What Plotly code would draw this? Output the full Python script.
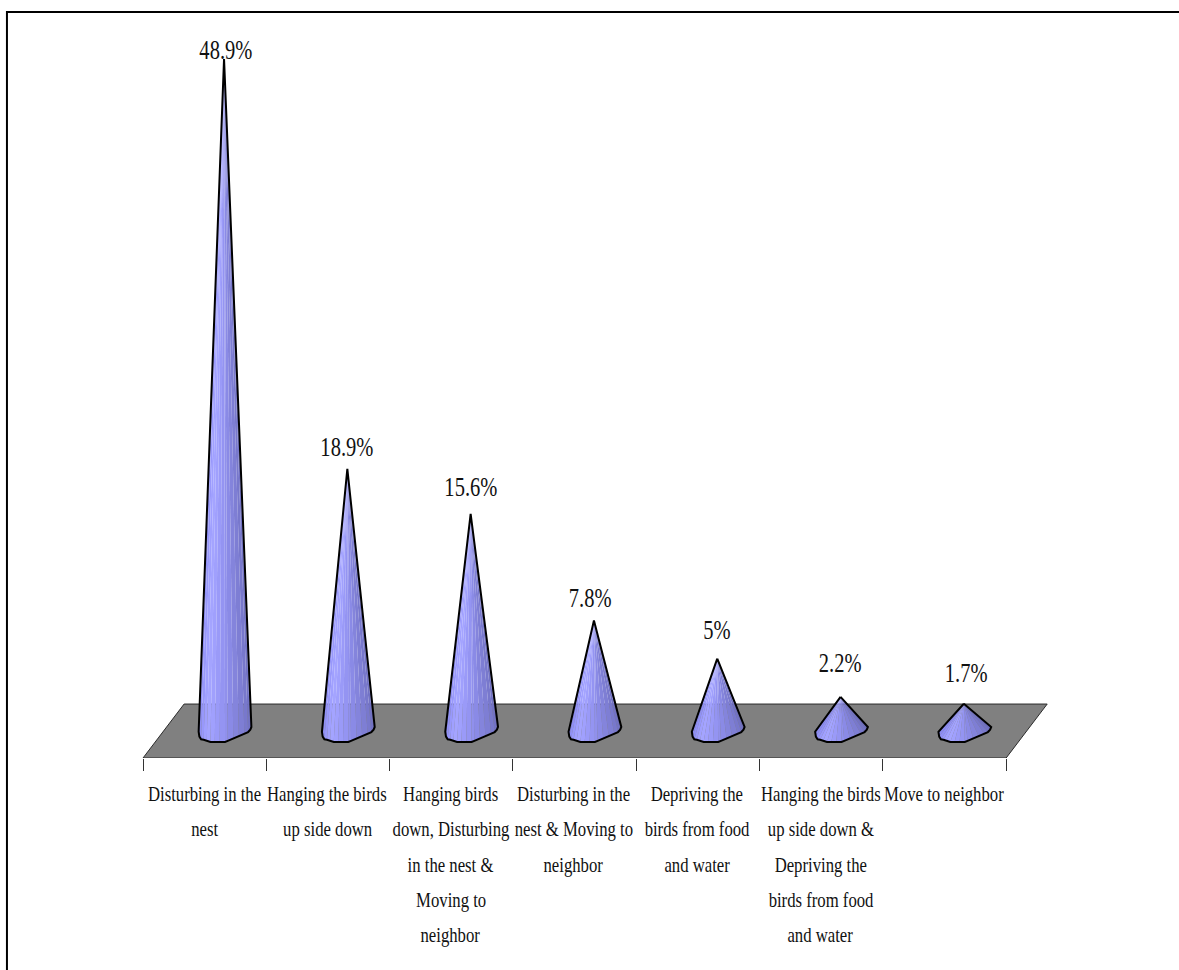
import plotly.graph_objects as go

# Survey results: share of respondents per category
CATEGORY_LINES = [
    ["Disturbing in the", "nest"],
    ["Hanging the birds", "up side down"],
    ["Hanging birds", "down, Disturbing", "in the nest &", "Moving to", "neighbor"],
    ["Disturbing in the", "nest & Moving to", "neighbor"],
    ["Depriving the", "birds from food", "and water"],
    ["Hanging the birds", "up side down &", "Depriving the", "birds from food", "and water"],
    ["Move to neighbor"],
]
VALUES = [48.9, 18.9, 15.6, 7.8, 5, 2.2, 1.7]

# Label placement above each apex, in pixels
LABEL_LIFT = [9, 22, 27, 22, 29, 34, 31]
LABEL_NUDGE = [2, 0, 0, -4, 0, -1, 2]

# Cone base outline around a cone's centre: x in category units, y in percent
RIM_DX = [-0.206, -0.200, -0.186, -0.165, -0.140, -0.110, -0.075, -0.035, 0.008,
          0.030, 0.075, 0.120, 0.165, 0.195, 0.213, 0.222]
RIM_DY = [-0.35, -0.70, -0.90, -0.93, -1.00, -1.10, -1.10, -1.10, -1.10,
          -1.01, -0.84, -0.66, -0.49, -0.37, -0.20, 0.00]
FACET_COLORS = ["#8a8af0", "#9090f6", "#9898fb", "#a0a0ff", "#a4a4ff", "#a0a0fd",
                "#9a9af8", "#9494f2", "#9090ec", "#8a8ae6", "#8484dc", "#7e7ed4",
                "#7878cc", "#7272c4", "#6c6cbc"]

FLOOR_FRONT = -2.27
FLOOR_BACK = 1.68
FLOOR_LEFT = -0.657
FLOOR_DEPTH = 0.333
FLOOR_RIGHT = 6.343

# The typeface is set tall and condensed; this narrows the annotation text after drawing
CONDENSE_TEXT = """
document.querySelectorAll('text.annotation-text').forEach(function (t) {
    var box = t.getBBox();
    var cx = box.x + box.width / 2;
    t.setAttribute('transform',
        'translate(' + cx + ',0) scale(0.76,1) translate(' + (-cx) + ',0)');
});
"""

fig = go.Figure()

# Grey floor plane under the cones
fig.add_trace(go.Scatter(
    x=[FLOOR_LEFT, FLOOR_LEFT + FLOOR_DEPTH, FLOOR_RIGHT + FLOOR_DEPTH, FLOOR_RIGHT, FLOOR_LEFT],
    y=[FLOOR_FRONT, FLOOR_BACK, FLOOR_BACK, FLOOR_FRONT, FLOOR_FRONT],
    mode="lines", fill="toself", fillcolor="#808080",
    line=dict(color="#2a2a2a", width=1), hoverinfo="skip", showlegend=False,
))

for i, value in enumerate(VALUES):
    rim_x = [i + dx for dx in RIM_DX]
    rim_y = list(RIM_DY)
    # Shaded wedges running from the apex to the base outline
    for k, color in enumerate(FACET_COLORS):
        fig.add_trace(go.Scatter(
            x=[i, rim_x[k], rim_x[k + 1], i],
            y=[value, rim_y[k], rim_y[k + 1], value],
            mode="none", fill="toself", fillcolor=color,
            hoverinfo="skip", showlegend=False,
        ))
    # Black silhouette
    fig.add_trace(go.Scatter(
        x=[i] + rim_x + [i],
        y=[value] + rim_y + [value],
        mode="lines", line=dict(color="black", width=2, shape="linear"),
        hoverinfo="skip", showlegend=False,
    ))
    fig.add_annotation(
        x=i, y=value, text=f"{value:g}%", showarrow=False,
        xshift=LABEL_NUDGE[i], yshift=LABEL_LIFT[i], yanchor="middle",
        font=dict(family="Liberation Serif", size=27, color="#111111"),
    )
    # Category text, one row at a time for the wide line spacing
    for row, line in enumerate(CATEGORY_LINES[i]):
        fig.add_annotation(
            x=i - 0.162, y=FLOOR_FRONT, text=line, showarrow=False,
            yshift=-(35.5 + 35.3 * row), yanchor="middle",
            font=dict(family="Liberation Serif", size=22, color="#111111"),
        )

fig.update_layout(
    width=1179, height=970, autosize=False,
    margin=dict(l=0, r=0, t=0, b=212),
    paper_bgcolor="white", plot_bgcolor="white", showlegend=False,
    xaxis=dict(
        range=[-1.817, 7.745], showgrid=False, zeroline=False, showline=False,
        tickmode="array", tickvals=[FLOOR_LEFT + n for n in range(8)],
        ticks="outside", ticklen=12, tickwidth=1, tickcolor="#333333",
        showticklabels=False, fixedrange=True,
    ),
    yaxis=dict(
        range=[FLOOR_FRONT, 53.22], visible=False, fixedrange=True,
    ),
    shapes=[
        # Frame along the top and left of the chart area
        dict(type="line", xref="paper", yref="paper", x0=0.0059, x1=1, y0=1.0 - 12 / 758, y1=1.0 - 12 / 758,
             line=dict(color="black", width=2)),
        dict(type="line", xref="paper", yref="paper", x0=0.0059, x1=0.0059, y0=-212 / 758, y1=1.0 - 11 / 758,
             line=dict(color="black", width=2)),
    ],
)

fig.write_html("out.html", config={"displayModeBar": False}, post_script=CONDENSE_TEXT)
